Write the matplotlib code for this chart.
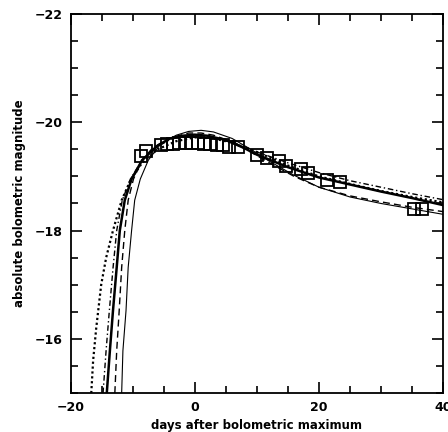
import numpy as np
import matplotlib.pyplot as plt
from matplotlib.ticker import MultipleLocator

# observed bolometric points (days, mag)
obs_day = [-8.7, -7.9, -5.5, -4.5, -3.5, -2.5, -1.5, -0.5, 0.5, 1.5, 2.5, 3.5, 4.5, 5.5, 7.0,
           10.0, 11.6, 13.5, 14.7, 17.1, 18.2, 21.3, 23.4, 35.3, 36.6]
obs_mag = [-19.37, -19.46, -19.57, -19.6, -19.6, -19.62, -19.62, -19.62, -19.62, -19.6, -19.6,
           -19.58, -19.57, -19.55, -19.55,
           -19.39, -19.33, -19.28, -19.2, -19.13, -19.07, -18.94, -18.89, -18.39, -18.39]

# model light curves
dot_day = [-16.7, -16.4, -15.9, -15.1, -14.3, -13.2, -11.8, -10.3, -8.5, -6.0, -3.0, 0.0, 3.0,
           6.0, 10.0, 15.0, 20.0, 25.0, 30.0, 35.0, 40.0]
dot_mag = [-15.0, -15.6, -16.2, -17.0, -17.5, -18.0, -18.56, -18.95, -19.25, -19.5, -19.65,
           -19.72, -19.7, -19.62, -19.45, -19.2, -19.0, -18.86, -18.73, -18.62, -18.52]

thick_day = [-14.2, -13.7, -13.2, -12.6, -12.1, -11.3, -10.2, -8.5, -6.0, -4.0, -2.0, 0.0, 2.0,
             5.0, 8.0, 10.0, 15.0, 20.0, 25.0, 30.0, 35.0, 40.0]
thick_mag = [-15.0, -15.78, -16.52, -17.32, -18.0, -18.56, -18.95, -19.3, -19.57, -19.7, -19.75,
             -19.77, -19.75, -19.67, -19.52, -19.4, -19.17, -18.98, -18.85, -18.72, -18.6, -18.47]

dashdot_day = [-14.8, -14.3, -13.8, -13.2, -12.6, -11.7, -10.4, -8.5, -6.0, -4.0, -2.0, 0.0, 2.0,
               5.0, 8.0, 10.0, 15.0, 20.0, 25.0, 30.0, 35.0, 40.0]
dashdot_mag = [-15.0, -15.8, -16.5, -17.3, -18.0, -18.56, -18.95, -19.3, -19.55, -19.68, -19.74,
               -19.76, -19.74, -19.68, -19.55, -19.45, -19.25, -19.07, -18.92, -18.8, -18.68, -18.57]

dash_day = [-12.9, -12.6, -12.2, -11.8, -11.3, -10.75, -9.9, -8.5, -7.0, -5.0, -3.0, -1.0, 1.0,
            3.0, 6.0, 9.0, 12.0, 16.0, 20.0, 25.0, 30.0, 35.0, 40.0]
dash_mag = [-15.0, -15.78, -16.52, -17.32, -18.0, -18.56, -18.95, -19.3, -19.5, -19.65, -19.74,
            -19.8, -19.8, -19.76, -19.64, -19.45, -19.25, -19.0, -18.8, -18.64, -18.53, -18.43, -18.35]

thin_day = [-11.8, -11.6, -11.1, -10.75, -10.2, -9.7, -8.8, -7.5, -5.5, -3.0, -1.0, 1.0, 3.0,
            6.0, 9.0, 12.0, 16.0, 20.0, 25.0, 30.0, 35.0, 40.0]
thin_mag = [-15.0, -15.78, -16.52, -17.32, -18.0, -18.56, -18.95, -19.3, -19.6, -19.76, -19.83,
            -19.85, -19.82, -19.7, -19.5, -19.28, -19.02, -18.8, -18.62, -18.5, -18.4, -18.3]

fig = plt.figure(figsize=(4.48, 4.32), dpi=100)
ax = fig.add_axes([0.158, 0.090, 0.831, 0.878])

ax.plot(dot_day, dot_mag, color='k', ls=(0, (1, 1.2)), lw=1.6)
ax.plot(thick_day, thick_mag, color='k', ls='-', lw=1.8)
ax.plot(dashdot_day, dashdot_mag, color='k', ls=(0, (4, 2, 1, 2)), lw=1.0)
ax.plot(dash_day, dash_mag, color='k', ls=(0, (5, 3)), lw=1.0)
ax.plot(thin_day, thin_mag, color='k', ls='-', lw=0.8)
ax.plot(obs_day, obs_mag, ls='none', marker='s', ms=9, mfc='none', mec='k', mew=1.3)

ax.set_xlim(-20, 40)
ax.set_ylim(-15, -22)
ax.xaxis.set_major_locator(MultipleLocator(20))
ax.xaxis.set_minor_locator(MultipleLocator(5))
ax.yaxis.set_major_locator(MultipleLocator(2))
ax.yaxis.set_minor_locator(MultipleLocator(0.5))
ax.tick_params(which='both', direction='in', top=True, right=True, width=1.2,
               labelsize=9, pad=6)
ax.tick_params(which='major', length=8)
ax.tick_params(which='minor', length=5)
for lab in ax.get_xticklabels() + ax.get_yticklabels():
    lab.set_fontweight('bold')
for s in ax.spines.values():
    s.set_linewidth(1.3)

ax.set_xlabel('days after bolometric maximum', fontsize=8.5, fontweight='bold', labelpad=3)
ax.set_ylabel('absolute bolometric magnitude', fontsize=8.5, fontweight='bold', labelpad=6)

fig.savefig('out.png', dpi=100)
